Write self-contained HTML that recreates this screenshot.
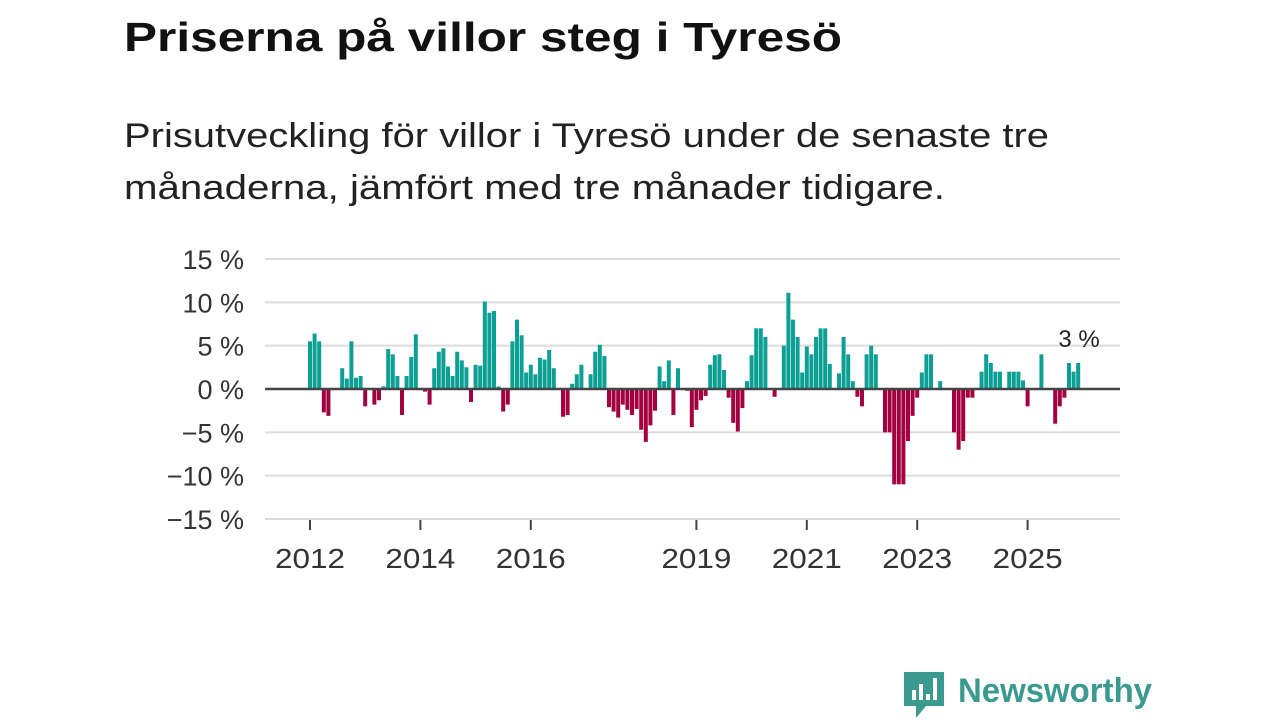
<!DOCTYPE html>
<html><head><meta charset="utf-8"><style>
html,body{margin:0;padding:0;background:#fff;}
svg{display:block;font-family:"Liberation Sans",sans-serif;}
</style></head><body>
<svg id="chart" width="1280" height="720" viewBox="0 0 1280 720">
<text x="124" y="51" font-size="41" font-weight="bold" fill="#111" textLength="718" lengthAdjust="spacingAndGlyphs">Priserna på villor steg i Tyresö</text>
<text x="124" y="147" font-size="34" fill="#222" textLength="925" lengthAdjust="spacingAndGlyphs">Prisutveckling för villor i Tyresö under de senaste tre</text>
<text x="124" y="199" font-size="34" fill="#222" textLength="821" lengthAdjust="spacingAndGlyphs">månaderna, jämfört med tre månader tidigare.</text>
<g id="grid"></g>
<g id="bars"></g>
<g id="axes"></g>
<text x="1079" y="347" font-size="24" fill="#222" text-anchor="middle">3 %</text>
<g>
<path d="M904 672 h40 v34 h-18 l-10 12 v-12 h-12 z" fill="#3a9a8f"/>
<rect x="912" y="690" width="4" height="10" fill="#fff"/>
<rect x="919" y="684" width="4" height="16" fill="#fff"/>
<rect x="926" y="694" width="4" height="6" fill="#fff"/>
<rect x="933" y="678" width="4" height="22" fill="#fff"/>
<text x="958" y="702" font-size="34" font-weight="bold" fill="#3a9a8f" textLength="194" lengthAdjust="spacingAndGlyphs">Newsworthy</text>
</g>
</svg>
<script>
const startYear = 2012;
const values = [5.5,6.4,5.5,-2.7,-3.1,0,0.1,2.4,1.2,5.5,1.3,1.5,
-2,0,-1.8,-1.3,0.3,4.6,4.0,1.5,-3,1.5,3.7,6.3,
0,-0.3,-1.8,2.4,4.3,4.7,2.6,1.5,4.3,3.3,2.5,-1.5,
2.8,2.7,10.1,8.8,9.0,0.3,-2.6,-1.8,5.5,8.0,6.2,1.9,
2.8,1.7,3.6,3.4,4.5,2.4,0,-3.2,-3.0,0.6,1.7,2.8,
0,1.7,4.3,5.1,3.8,-2.1,-2.6,-3.3,-1.8,-2.4,-3.0,-2.3,
-4.7,-6.1,-4.2,-2.5,2.6,0.9,3.3,-3.0,2.4,0,-0.2,-4.4,
-2.4,-1.3,-0.8,2.8,3.9,4.0,2.2,-1.0,-3.9,-4.9,-2.2,0.9,
3.9,7.0,7.0,6.0,0,-0.9,0,5.0,11.1,8.0,6.0,1.9,
4.9,4.0,6.0,7.0,7.0,2.9,0,1.8,6.0,4.0,0.9,-0.9,
-2.0,4.0,5.0,4.0,0,-5.0,-5.0,-11,-11,-11,-6,-3.1,
-1.0,1.9,4.0,4.0,0,0.9,0,0,-5,-7,-6,-1,
-1,0,2,4,3,2,2,0,2,2,2,1,
-2,0,0,4,0,0,-4,-2,-1,3,2,3];
const yTicks = [15,10,5,0,-5,-10,-15];
const xTickYears = [2012,2014,2016,2019,2021,2023,2025];

const NS='http://www.w3.org/2000/svg';
const x0=310, monthW=4.6, y0=389, pxPer=8.667;
const xScale = i => x0 + i*monthW;
const yScale = v => y0 - v*pxPer;
function mk(tag, attrs, parent){const e=document.createElementNS(NS,tag);for(const k in attrs)e.setAttribute(k,attrs[k]);parent.appendChild(e);return e;}
const grid=document.getElementById('grid'), bars=document.getElementById('bars'), axes=document.getElementById('axes');
yTicks.forEach(t=>{
  if(t!==0){const l=mk('line',{x1:265,x2:1120,y1:yScale(t),y2:yScale(t),stroke:'#dcdcdc','stroke-width':2},grid);
  
  }
  const tx=mk('text',{x:244,y:yScale(t)+10,'font-size':27,fill:'#333','text-anchor':'end'},axes);
  tx.textContent=(t<0?'\u2212'+Math.abs(t):t)+' %';
  
  
});
values.forEach((v,i)=>{
  if(v===0)return;
  const y=Math.min(yScale(v),y0), h=Math.abs(yScale(v)-y0);
  const r=mk('rect',{x:xScale(i)-2,y:y,width:4,height:h,fill:v>0?'#0ca095':'#a3003f'},bars);
  
  
});
const zl=mk('line',{x1:265,x2:1120,y1:y0,y2:y0,stroke:'#444','stroke-width':2.5},axes);


xTickYears.forEach(yr=>{
  const x=xScale((yr-startYear)*12);
  const tk=mk('line',{x1:x,x2:x,y1:520,y2:530,stroke:'#444','stroke-width':2},axes);
  
  
  const t=mk('text',{x:x,y:568,'font-size':28,fill:'#333','text-anchor':'middle',textLength:70,lengthAdjust:'spacingAndGlyphs'},axes);
  t.textContent=yr;
  
  
});
</script>
</body></html>
